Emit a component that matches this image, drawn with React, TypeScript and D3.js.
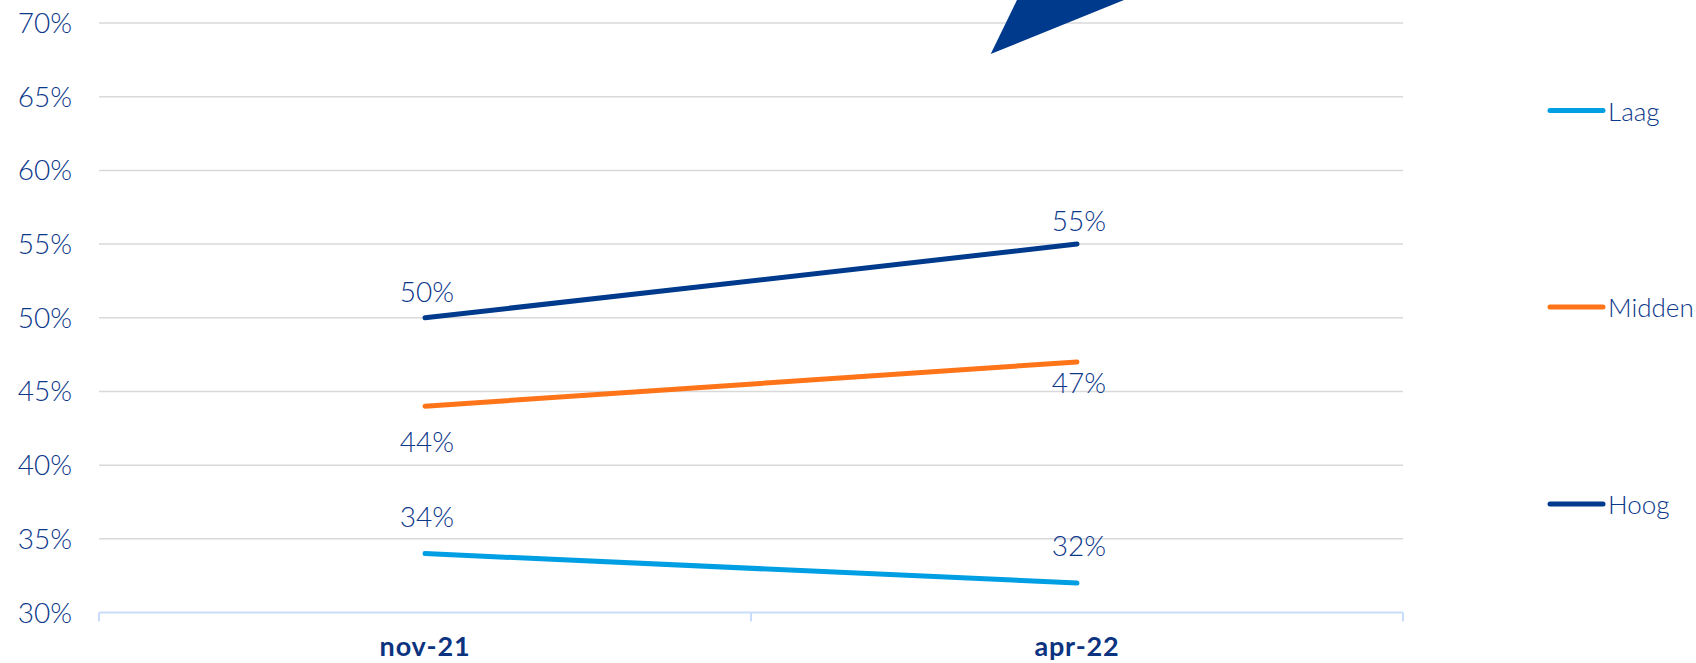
import React from "react";
import * as d3 from "d3";

const categories = ["nov-21", "apr-22"];
const seriesNames = ["Laag", "Midden", "Hoog"];
const laag = [34, 32];
const midden = [44, 47];
const hoog = [50, 55];
const yTicks = [30, 35, 40, 45, 50, 55, 60, 65, 70];

const colors: Record<string, string> = {
  Laag: "#009fe3",
  Midden: "#ff7418",
  Hoog: "#003a8c",
};
// label offsets (px, relative to point) for each series/category
const labelDy: Record<string, number[]> = {
  Laag: [-27, -27],
  Midden: [46, 31],
  Hoog: [-16, -13],
};

const W = 1696;
const H = 663;
const TEXT = "#0c388a";
const FONT = "Lato, 'Open Sans', sans-serif";

export default function App() {
  const x = d3.scaleBand().domain(categories).range([99, 1403]);
  const y = d3.scaleLinear().domain([30, 70]).range([612.5, 23]);
  const data: Record<string, number[]> = { Laag: laag, Midden: midden, Hoog: hoog };
  const line = d3
    .line<[string, number]>()
    .x((d) => (x(d[0]) as number) + x.bandwidth() / 2)
    .y((d) => y(d[1]));

  const legendY = [110.5, 307, 504];

  return (
    <svg
      width={W}
      height={H}
      style={{ position: "absolute", left: 0, top: 0, background: "#fff" }}
      fontFamily={FONT}
    >
      {yTicks.slice(1).map((t) => (
        <line key={t} x1={99} x2={1403} y1={y(t)} y2={y(t)} stroke="#d9d9d9" strokeWidth={1.5} />
      ))}
      {/* x axis */}
      <line x1={99} x2={1403} y1={y(30)} y2={y(30)} stroke="#c9ddfb" strokeWidth={2} />
      {[99, ...categories.map((c) => (x(c) as number) + x.bandwidth())].map((px, i) => (
        <line key={i} x1={px} x2={px} y1={y(30)} y2={y(30) + 9} stroke="#c9ddfb" strokeWidth={2} />
      ))}
      {yTicks.map((t) => (
        <text key={t} x={72} y={y(t) + 10} textAnchor="end" fontSize={28} fontWeight={300} fill={TEXT}>
          {t}%
        </text>
      ))}
      {categories.map((c) => (
        <text
          key={c}
          x={(x(c) as number) + x.bandwidth() / 2}
          y={656}
          textAnchor="middle"
          fontSize={27}
          fontWeight={700}
          letterSpacing={0.8}
          fill="#0b3380"
        >
          {c}
        </text>
      ))}
      {/* decorative triangle */}
      <polygon points="990.7,54 1017,0 1124,0" fill="#003a8c" />
      {seriesNames.map((s) => (
        <g key={s}>
          <path
            d={line(categories.map((c, i) => [c, data[s][i]]))!}
            fill="none"
            stroke={colors[s]}
            strokeWidth={5}
            strokeLinecap="round"
          />
          {categories.map((c, i) => (
            <text
              key={c}
              x={(x(c) as number) + x.bandwidth() / 2 + 2}
              y={y(data[s][i]) + labelDy[s][i]}
              textAnchor="middle"
              fontSize={28}
              fontWeight={300}
              fill={TEXT}
            >
              {data[s][i]}%
            </text>
          ))}
        </g>
      ))}
      {seriesNames.map((s, i) => (
        <g key={s}>
          <line x1={1550} x2={1603} y1={legendY[i]} y2={legendY[i]} stroke={colors[s]} strokeWidth={5} strokeLinecap="round" />
          <text x={1608} y={legendY[i] + 10} fontSize={26} fontWeight={300} fill={TEXT}>
            {s}
          </text>
        </g>
      ))}
    </svg>
  );
}
